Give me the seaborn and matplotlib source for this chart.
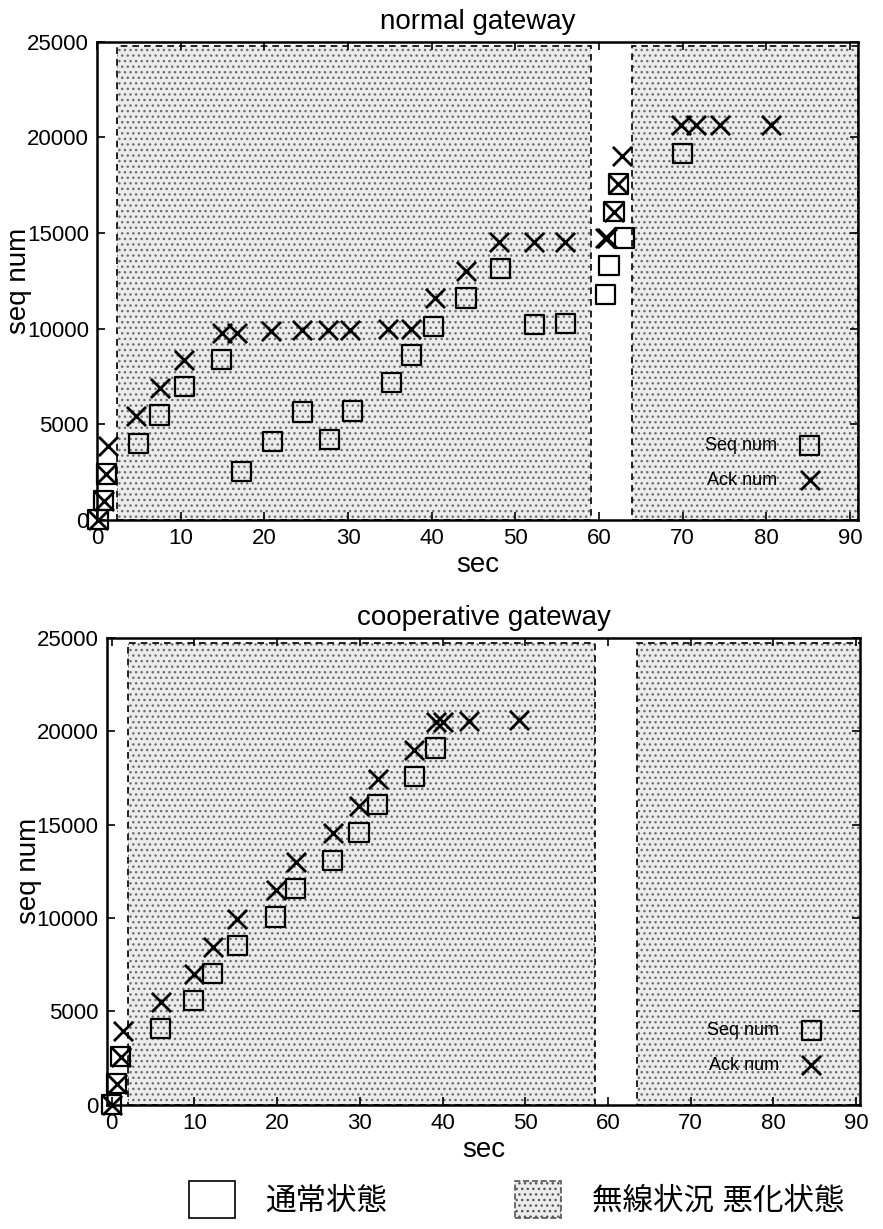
import matplotlib
matplotlib.use("Agg")
import pandas as pd
import seaborn as sns
import matplotlib.pyplot as plt
from matplotlib.patches import Rectangle, Patch

# ---- data ----
# normal gateway
normal_seq_t = [0.1, 0.8, 1.1, 4.9, 7.5, 10.4, 14.9, 17.3, 21.0, 24.6, 27.8, 30.5, 35.2, 37.6,
                40.2, 44.1, 48.2, 52.3, 56.0, 60.8, 61.2, 61.8, 62.3, 63.1, 70.0]
normal_seq = [0, 1000, 2400, 3990, 5480, 6970, 8400, 2550, 4100, 5640, 4200, 5690, 7180, 8620,
              10100, 11600, 13140, 10210, 10270, 11800, 13300, 16120, 17560, 14740, 19150]
normal_ack_t = [0.1, 0.8, 1.1, 1.3, 4.7, 7.5, 10.4, 14.9, 16.7, 20.8, 24.5, 27.6, 30.2, 34.8, 37.5,
                40.4, 44.1, 48.1, 52.2, 55.9, 60.7, 61.0, 61.8, 62.3, 62.8, 69.8, 71.6, 74.5, 80.6]
normal_ack = [0, 1000, 2400, 3880, 5430, 6920, 8350, 9790, 9790, 9900, 9950, 9950, 9950, 10000, 10000,
              11600, 13030, 14520, 14520, 14520, 14740, 14740, 16120, 17560, 19050, 20640, 20640, 20640, 20640]

# cooperative gateway
coop_seq_t = [0.0, 0.6, 1.1, 5.9, 9.9, 12.2, 15.2, 19.8, 22.2, 26.7, 29.9, 32.1, 36.6, 39.2]
coop_seq = [0, 1130, 2580, 4090, 5600, 7050, 8550, 10060, 11570, 13070, 14580, 16090, 17590, 19100]
coop_ack_t = [0.0, 0.6, 1.1, 1.4, 6.0, 9.9, 12.2, 15.2, 19.8, 22.3, 26.8, 29.9, 32.2, 36.5,
              39.2, 40.1, 43.2, 49.2]
coop_ack = [0, 1130, 2580, 3930, 5490, 6990, 8450, 9950, 11510, 13020, 14530, 15980, 17430, 18990,
            20500, 20500, 20550, 20600]

# bad-radio periods (sec) and the height of the shaded boxes
normal_bad = [(2.4, 59.0), (64.0, 91.0)]
coop_bad = [(1.9, 58.4), (63.5, 91.0)]
box_top = [24800, 24700]

titles = ["normal gateway", "cooperative gateway"]
x_ticks = list(range(0, 91, 10))
y_ticks = list(range(0, 25001, 5000))
legend_labels = ["通常状態", "無線状況 悪化状態"]

sns.set_style("ticks")
plt.rcParams["font.family"] = ["Liberation Sans", "Noto Sans CJK JP"]
plt.rcParams["hatch.linewidth"] = 1.0
for key in ["text.color", "axes.labelcolor", "xtick.color", "ytick.color", "axes.edgecolor"]:
    plt.rcParams[key] = "black"

fig = plt.figure(figsize=(8.83, 12.29), dpi=100)
ax_top = fig.add_axes([0.110, 0.577, 0.862, 0.389])
ax_bot = fig.add_axes([0.121, 0.101, 0.853, 0.380])

panels = [
    (ax_top, normal_seq_t, normal_seq, normal_ack_t, normal_ack, normal_bad, box_top[0], titles[0], (0, 91)),
    (ax_bot, coop_seq_t, coop_seq, coop_ack_t, coop_ack, coop_bad, box_top[1], titles[1], (-0.6, 90.5)),
]

for ax, st, sv, at, av, bad, ytop, title, xlim in panels:
    # shaded "bad radio" periods
    for x0, x1 in bad:
        ax.add_patch(Rectangle((x0, 0), x1 - x0, ytop, facecolor="#ececec",
                               edgecolor="#6e6e6e", hatch="...", lw=0, zorder=0))
        ax.add_patch(Rectangle((x0, 0), x1 - x0, ytop, fill=False,
                               edgecolor="black", ls=(0, (4, 3)), lw=1.2, zorder=1))

    seq_df = pd.DataFrame({"sec": st, "seq": sv})
    ack_df = pd.DataFrame({"sec": at, "seq": av})
    sns.scatterplot(data=seq_df, x="sec", y="seq", ax=ax, marker="s", s=190,
                    facecolor="none", edgecolor="black", linewidth=1.6,
                    label="Seq num", zorder=3, clip_on=False)
    sns.scatterplot(data=ack_df, x="sec", y="seq", ax=ax, marker="x", s=190,
                    color="black", linewidth=2.0, label="Ack num", zorder=4, clip_on=False)

    ax.set_xlim(*xlim)
    ax.set_ylim(0, 25000)
    ax.set_xticks(x_ticks)
    ax.set_yticks(y_ticks)
    ax.tick_params(direction="in", top=True, right=True, length=6, width=1.2,
                   labelsize=16, pad=6)
    for sp in ax.spines.values():
        sp.set_linewidth(1.8)
    ax.set_title(title, fontsize=20, pad=9)
    ax.set_xlabel("sec", fontsize=20, labelpad=2)
    ax.set_ylabel("seq num", fontsize=20, labelpad=-4)
    ax.legend(loc="lower right", markerfirst=False, frameon=False, fontsize=13,
              handletextpad=0.8, labelspacing=1.0, borderaxespad=1.3)

# figure legend for the two states
handles = [
    Patch(facecolor="white", edgecolor="black", lw=1.2),
    Patch(facecolor="#ececec", edgecolor="#555555", hatch="...", ls="--", lw=1.2),
]
fig.legend(handles, legend_labels, loc="center", bbox_to_anchor=(0.585, 0.024), ncol=2,
           frameon=False, fontsize=22, handlelength=1.5, handleheight=1.5,
           handletextpad=1.0, columnspacing=4.2)

fig.savefig("out.png", dpi=100)
